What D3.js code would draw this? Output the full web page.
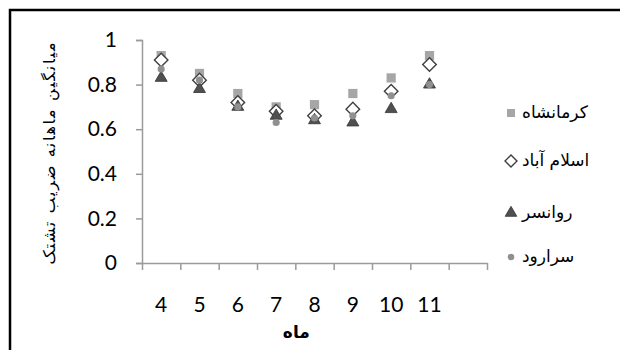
<!DOCTYPE html>
<html>
<head>
<meta charset="utf-8">
<script src="https://cdn.jsdelivr.net/npm/d3@7"></script>
<style>
  html, body { margin: 0; padding: 0; background: #fff; }
  svg { display: block; }
</style>
</head>
<body>
<svg id="chart" width="620" height="350"></svg>
<script>
// ---- data ----
const months = ["4", "5", "6", "7", "8", "9", "10", "11"];
const kermanshah = [0.93, 0.85, 0.76, 0.70, 0.71, 0.76, 0.83, 0.93];
const eslamabad  = [0.91, 0.82, 0.72, 0.68, 0.66, 0.69, 0.77, 0.89];
const ravansar   = [0.83, 0.78, 0.70, 0.66, 0.64, 0.63, 0.69, 0.80];
const sarab      = [0.87, 0.82, 0.70, 0.63, 0.65, 0.66, 0.75, 0.80];
const seriesNames = ["کرمانشاه", "اسلام آباد", "روانسر", "سرارود"];
const yTickValues = [0, 0.2, 0.4, 0.6, 0.8, 1];
const yTitle = "میانگین ماهانه ضریب تشتک";
const xTitle = "ماه";

// ---- layout ----
const svg = d3.select("#chart");
const plotLeft = 142, plotRight = 487, plotTop = 40, plotBottom = 263;
const categories = months.concat([" "]); // trailing empty category slot
const x = d3.scaleBand().domain(categories).range([plotLeft, plotRight]).paddingInner(0).paddingOuter(0);
const xEdge = d3.scaleLinear().domain([0, categories.length]).range([plotLeft, plotRight]);
const y = d3.scaleLinear().domain([0, 1]).range([plotBottom, plotTop]);

// frame
svg.append("rect").attr("x", 10).attr("y", 10).attr("width", 640).attr("height", 360)
  .attr("fill", "none").attr("stroke", "#000").attr("stroke-width", 2.5);

const axisColor = "#9a9a9a";
const numFont = "Lato, 'Liberation Sans', sans-serif";

// y axis
const yAxis = svg.append("g").attr("transform", `translate(${plotLeft},0)`)
  .call(d3.axisLeft(y).tickValues(yTickValues).tickFormat(d3.format("~g")).tickSize(6).tickPadding(19));
yAxis.select(".domain").attr("stroke", axisColor).attr("stroke-width", 1.5);
yAxis.selectAll(".tick line").attr("stroke", axisColor).attr("stroke-width", 1.5);
yAxis.selectAll(".tick text").attr("font-family", numFont).attr("font-size", 21).attr("fill", "#000");

// x axis: tick marks at category boundaries
const xTicks = svg.append("g").attr("transform", `translate(0,${plotBottom})`)
  .call(d3.axisBottom(xEdge).tickValues(d3.range(categories.length + 1)).tickFormat("").tickSize(7).tickSizeOuter(0));
xTicks.select(".domain").attr("stroke", axisColor).attr("stroke-width", 1.5);
xTicks.selectAll(".tick line").attr("stroke", axisColor).attr("stroke-width", 1.5);

// x axis labels at category centres
const xLabels = svg.append("g").attr("transform", `translate(0,${plotBottom})`)
  .call(d3.axisBottom(x).tickSize(0).tickPadding(34));
xLabels.select(".domain").remove();
xLabels.selectAll(".tick text").attr("font-family", numFont).attr("font-size", 21).attr("fill", "#000");

// axis titles
svg.append("text")
  .attr("transform", `translate(50,${(plotTop + plotBottom) / 2 + 2}) rotate(-90)`)
  .attr("text-anchor", "middle").attr("dominant-baseline", "middle")
  .attr("font-family", "'DejaVu Sans', sans-serif").attr("font-size", 16)
  .attr("textLength", 222).attr("lengthAdjust", "spacing")
  .attr("fill", "#000").text(yTitle);
svg.append("text")
  .attr("x", (plotLeft + xEdge(months.length)) / 2 + 1).attr("y", 338)
  .attr("text-anchor", "middle")
  .attr("font-family", "'DejaVu Sans', sans-serif").attr("font-size", 17).attr("font-weight", "bold")
  .attr("fill", "#000").text(xTitle);

// series styles
const styles = [
  { type: d3.symbolSquare, size: 85, rot: 0, fill: "#a6a6a6", stroke: "none", sw: 0 },
  { type: d3.symbolSquare, size: 92, rot: 45, fill: "#ffffff", stroke: "#404040", sw: 1.4 },
  { type: d3.symbolTriangle, size: 62, rot: 0, fill: "#505050", stroke: "#333333", sw: 0.8 },
  { type: d3.symbolCircle, size: 40, rot: 0, fill: "#909090", stroke: "none", sw: 0 }
];
const allSeries = [kermanshah, eslamabad, ravansar, sarab];

allSeries.forEach((vals, si) => {
  const st = styles[si];
  const sym = d3.symbol().type(st.type).size(st.size);
  svg.append("g").selectAll("path").data(vals).join("path")
    .attr("d", sym)
    .attr("transform", (d, i) => `translate(${x(months[i]) + x.bandwidth() / 2},${y(d)}) rotate(${st.rot})`)
    .attr("fill", st.fill).attr("stroke", st.stroke).attr("stroke-width", st.sw);
});

// legend
const legendY = [113, 161, 213, 257];
const legendSizes = [64, 72, 58, 34];
const legend = svg.append("g");
seriesNames.forEach((name, si) => {
  const st = styles[si];
  legend.append("path")
    .attr("d", d3.symbol().type(st.type).size(legendSizes[si]))
    .attr("transform", `translate(511,${legendY[si]}) rotate(${st.rot})`)
    .attr("fill", st.fill).attr("stroke", st.stroke).attr("stroke-width", st.sw);
  legend.append("text")
    .attr("x", 522).attr("y", legendY[si]).attr("dominant-baseline", "middle")
    .attr("text-anchor", "start")
    .attr("font-family", "'DejaVu Sans', sans-serif").attr("font-size", 17)
    .attr("fill", "#000").text(name);
});
</script>
</body>
</html>
